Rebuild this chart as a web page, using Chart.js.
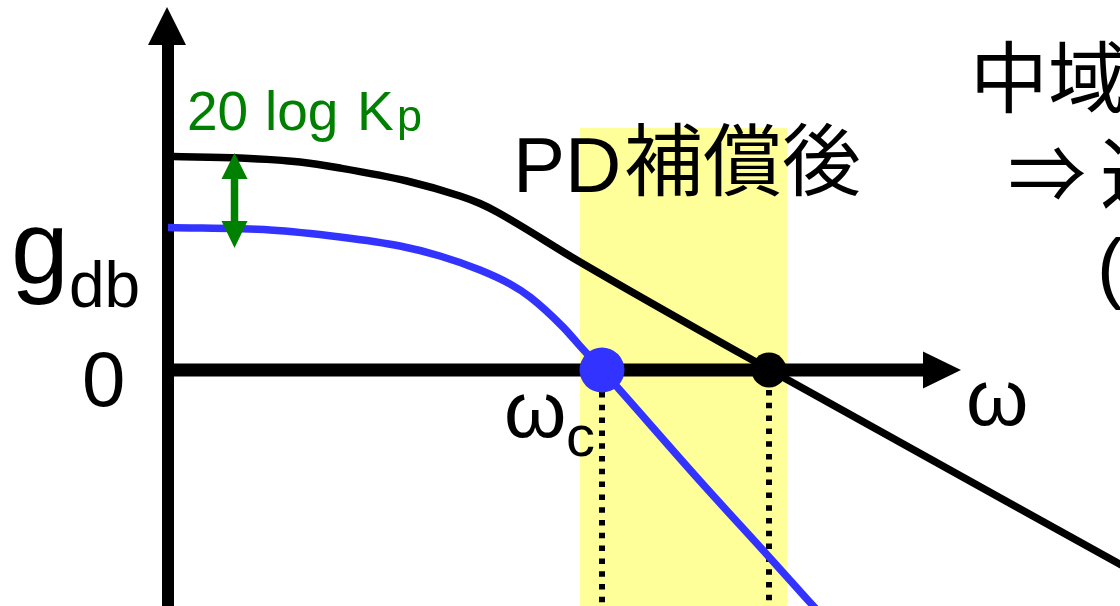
<!DOCTYPE html>
<html lang="ja">
  <head>
    <meta charset="UTF-8" />
    <title>PD補償後 ゲイン線図</title>
    <script src="https://cdn.jsdelivr.net/npm/chart.js"></script>
    <style>
      body {
        margin: 0;
        background: #fff;
        overflow: hidden;
      }
      canvas {
        display: block;
      }
    </style>
  </head>
  <body>
    <canvas id="bode" width="1120" height="606"></canvas>

    <script>
      // x = log ω (arbitrary units, 0 at the gain axis), y = gain [dB]
      const pdX = [0.04, 0.71, 1.31, 1.71, 2.38, 2.91, 3.11, 3.28, 4.11, 6.01, 9.56];
      const pdDb = [21.35, 21.2, 20.8, 20.2, 18.9, 17.4, 16.65, 15.8, 10.8, 0, -19.7];

      const pX = [-0.01, 1.01, 1.71, 2.31, 2.71, 3.11, 3.41, 3.61, 3.94, 4.11, 4.33, 5.31, 6.01, 6.56];
      const pDb = [14.25, 14.0, 13.3, 12.4, 11.4, 10.0, 8.6, 7.3, 4.3, 2.4, 0, -11.1, -18.8, -24.9];

      const crossP = 4.33; // ωc (P only)
      const crossPD = 6.0; // after PD
      const bandX = [4.11, 6.18];
      const bandTopDb = 24.2;

      const X_MIN = -1.69, X_MAX = 9.51;
      const Y_MIN = -23.6, Y_MAX = 37.0;

      const toPts = (xs, ys) => xs.map((v, i) => ({ x: v, y: ys[i] }));

      const decor = {
        id: "decor",
        beforeDatasetsDraw(chart) {
          const { ctx } = chart;
          const sx = chart.scales.x, sy = chart.scales.y;
          const ox = sx.getPixelForValue(0) - 1;
          const oy = sy.getPixelForValue(0);
          ctx.save();

          // highlighted band
          const b0 = sx.getPixelForValue(bandX[0]);
          const b1 = sx.getPixelForValue(bandX[1]);
          const bt = sy.getPixelForValue(bandTopDb);
          ctx.fillStyle = "#ffff99";
          ctx.fillRect(b0, bt, b1 - b0, chart.height - bt);

          // axes with arrowheads
          ctx.fillStyle = "#000";
          ctx.fillRect(ox - 6, 40, 12, chart.height - 40);
          ctx.beginPath();
          ctx.moveTo(ox - 1, 7);
          ctx.lineTo(ox + 18, 45);
          ctx.lineTo(ox - 20, 45);
          ctx.closePath();
          ctx.fill();

          ctx.fillRect(ox - 6, oy - 6.5, 930 - ox, 13);
          ctx.beginPath();
          ctx.moveTo(961, oy);
          ctx.lineTo(923, oy - 18.5);
          ctx.lineTo(923, oy + 18.5);
          ctx.closePath();
          ctx.fill();
          ctx.restore();
        },
        afterDatasetsDraw(chart) {
          const { ctx } = chart;
          ctx.save();
          const latin = "'Liberation Sans', Arial, sans-serif";
          const cjk = "'Noto Sans CJK JP', sans-serif";

          // 20 log Kp arrow
          const ax = 234.5;
          ctx.fillStyle = "#008000";
          ctx.fillRect(ax - 3.75, 175, 7.5, 50);
          ctx.beginPath();
          ctx.moveTo(ax, 153);
          ctx.lineTo(ax + 13, 179);
          ctx.lineTo(ax - 13, 179);
          ctx.closePath();
          ctx.moveTo(ax, 248);
          ctx.lineTo(ax + 13, 221);
          ctx.lineTo(ax - 13, 221);
          ctx.closePath();
          ctx.fill();

          ctx.textBaseline = "alphabetic";
          ctx.textAlign = "left";
          ctx.font = "55px " + latin;
          ctx.fillText("20", 187, 130);
          ctx.fillText("log", 265, 130);
          ctx.fillText("K", 357, 130);
          ctx.font = "45px " + latin;
          ctx.fillText("p", 397, 131);

          ctx.fillStyle = "#000";
          ctx.font = "78px " + latin;
          ctx.fillText("PD", 513, 192);
          ctx.font = "79px " + cjk;
          ctx.fillText("補償後", 624, 190);

          ctx.font = "104px " + latin;
          ctx.fillText("g", 11, 283);
          ctx.font = "64px " + latin;
          ctx.fillText("db", 69, 307);

          ctx.font = "78px " + latin;
          ctx.fillText("0", 82, 406);
          ctx.font = "80px " + latin;
          ctx.fillText("ω", 966, 425);
          ctx.fillText("ω", 504, 437);
          ctx.font = "58px " + latin;
          ctx.fillText("c", 566, 456);

          ctx.font = "78px " + cjk;
          ctx.fillText("中域", 970, 107);
          ctx.fillText("⇒", 1008, 203);
          ctx.fillText("速応性", 1100, 203);
          ctx.font = "78px " + latin;
          ctx.fillText("(", 1097, 294);
          ctx.restore();
        },
      };

      const chart = new Chart(document.getElementById("bode"), {
        type: "line",
        data: {
          datasets: [
            {
              data: [{ x: crossP, y: 0 }],
              showLine: false,
              pointRadius: 22.5,
              pointBackgroundColor: "#3333ff",
              pointBorderWidth: 0,
            },
            {
              data: [{ x: crossPD, y: 0 }],
              showLine: false,
              pointRadius: 17.5,
              pointBackgroundColor: "#000",
              pointBorderWidth: 0,
            },
            {
              data: toPts(pdX, pdDb),
              borderColor: "#000",
              borderWidth: 7.5,
              pointRadius: 0,
              cubicInterpolationMode: "monotone",
            },
            {
              data: toPts(pX, pDb),
              borderColor: "#3333ff",
              borderWidth: 7.5,
              pointRadius: 0,
              cubicInterpolationMode: "monotone",
            },
            {
              data: [{ x: crossP, y: -2.2 }, { x: crossP, y: Y_MIN }],
              borderColor: "#000",
              borderWidth: 6,
              borderDash: [5.5, 7.3],
              pointRadius: 0,
            },
            {
              data: [{ x: crossPD, y: -2.0 }, { x: crossPD, y: Y_MIN }],
              borderColor: "#000",
              borderWidth: 6,
              borderDash: [5.5, 7.3],
              pointRadius: 0,
            },
          ],
        },
        options: {
          responsive: false,
          animation: false,
          devicePixelRatio: 1,
          layout: { padding: 0, autoPadding: false },
          plugins: {
            legend: { display: false },
            title: { display: false },
            tooltip: { enabled: false },
          },
          scales: {
            x: { type: "linear", min: X_MIN, max: X_MAX, display: false },
            y: { type: "linear", min: Y_MIN, max: Y_MAX, display: false },
          },
        },
        plugins: [decor],
      });
    </script>
  </body>
</html>
